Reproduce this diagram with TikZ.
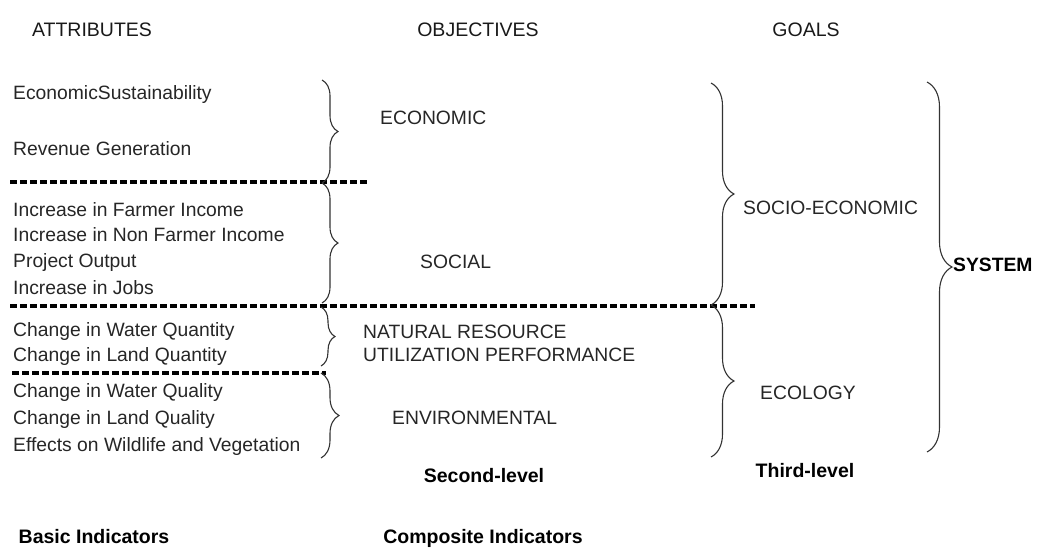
\documentclass[tikz,border=0pt]{standalone}
\usepackage{fontspec}
\setmainfont{Liberation Sans}
\usetikzlibrary{decorations.pathreplacing}
\begin{document}
\begin{tikzpicture}[x=1pt,y=-1pt,
  txt/.style={anchor=mid west,inner sep=0pt,yshift=-4pt,font=\fontsize{19.3}{22}\selectfont,text=black!85},
  hdr/.style={anchor=mid,inner sep=0pt,yshift=-4pt,font=\fontsize{19.5}{22}\selectfont,text=black!90},
  bld/.style={anchor=mid,inner sep=0pt,yshift=-4pt,font=\fontsize{19.5}{22}\selectfont\bfseries},
  brc/.style={draw=black!80,line width=1.1pt,decorate,decoration={brace,amplitude=#1}},
  brc/.default=16,
  sep/.style={draw=black,line width=4pt,dash pattern=on 7pt off 3pt}]
\useasboundingbox (0,0) rectangle (1037,549);
% headers
\node[hdr] (hA) at (92,30) {ATTRIBUTES};
\node[hdr] (hO) at (478,30) {OBJECTIVES};
\node[hdr] (hG) at (806,30) {GOALS};
% attributes
\node[txt] (a1) at (13,93) {EconomicSustainability};
\node[txt] (a2) at (13,149) {Revenue Generation};
\node[txt] (a3) at (13,210) {Increase in Farmer Income};
\node[txt] (a4) at (13,235) {Increase in Non Farmer Income};
\node[txt] (a5) at (13,261) {Project Output};
\node[txt] (a6) at (13,288) {Increase in Jobs};
\node[txt] (a7) at (13,330) {Change in Water Quantity};
\node[txt] (a8) at (13,355) {Change in Land Quantity};
\node[txt] (a9) at (13,391) {Change in Water Quality};
\node[txt] (a10) at (13,418) {Change in Land Quality};
\node[txt] (a11) at (13,445) {Effects on Wildlife and Vegetation};
% separators
\coordinate (s1a) at (10,182); \coordinate (s1b) at (368,182);
\coordinate (s2a) at (10,306); \coordinate (s2b) at (755,306);
\coordinate (s3a) at (12,373); \coordinate (s3b) at (326,373);
\draw[sep] (s1a) -- (s1b);
\draw[sep] (s2a) -- (s2b);
\draw[sep] (s3a) -- (s3b);
% first-level braces
\coordinate (b1t) at (322,80);  \coordinate (b1b) at (322,183);
\coordinate (b2t) at (322,183); \coordinate (b2b) at (322,303);
\coordinate (b3t) at (321,307); \coordinate (b3b) at (321,366);
\coordinate (b4t) at (321,373); \coordinate (b4b) at (321,458);
\draw[brc] (b1t) -- (b1b);
\draw[brc] (b2t) -- (b2b);
\draw[brc=14] (b3t) -- (b3b);
\draw[brc=18] (b4t) -- (b4b);
% objectives
\node[txt] (o1) at (380,118) {ECONOMIC};
\node[txt] (o2) at (420,262) {SOCIAL};
\node[txt] (o3) at (363,332) {NATURAL RESOURCE};
\node[txt] (o4) at (363,355) {UTILIZATION PERFORMANCE};
\node[txt] (o5) at (392,418) {ENVIRONMENTAL};
% second-level braces
\coordinate (b5t) at (711,83);  \coordinate (b5b) at (711,305);
\coordinate (b6t) at (711,305); \coordinate (b6b) at (711,457);
\draw[brc=23] (b5t) -- (b5b);
\draw[brc=23] (b6t) -- (b6b);
% goals
\node[txt] (g1) at (743,208) {SOCIO-ECONOMIC};
\node[txt] (g2) at (760,393) {ECOLOGY};
% system brace
\coordinate (b7t) at (927,82); \coordinate (b7b) at (927,452);
\draw[brc=25] (b7t) -- (b7b);
\node[txt,font=\fontsize{19.3}{22}\selectfont\bfseries,text=black] (sys) at (953,265) {SYSTEM};
% bottom labels
\node[bld] (l2) at (484,476) {Second-level};
\node[bld] (l3) at (805,471) {Third-level};
\node[bld] (bi) at (94,537) {Basic Indicators};
\node[bld] (ci) at (483,537) {Composite Indicators};
\end{tikzpicture}
\end{document}
